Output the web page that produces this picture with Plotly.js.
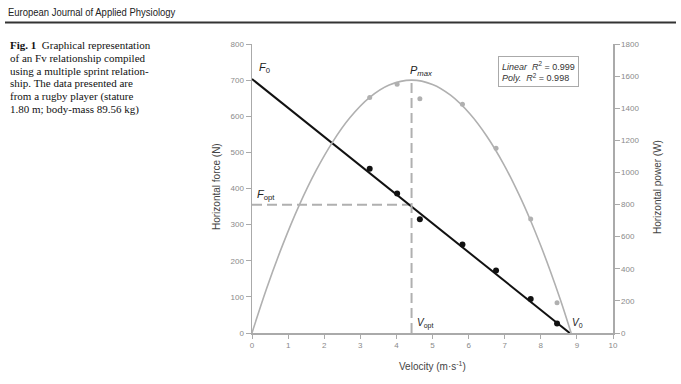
<!DOCTYPE html>
<html>
<head>
<meta charset="utf-8">
<script src="https://cdn.plot.ly/plotly-3.0.1.min.js"></script>
<style>
  html, body { margin: 0; padding: 0; background: #fff; }
  #wrap { position: relative; width: 681px; height: 384px; }
  #chart { width: 681px; height: 384px; }
  #header {
    position: absolute; left: 8px; top: 5px; white-space: nowrap;
    font-family: 'Liberation Sans', Arial, sans-serif; font-size: 11px; line-height: 14px; color: #222;
    transform: scaleX(0.86); transform-origin: left center;
  }
</style>
</head>
<body>
<div id="wrap">
  <div id="chart"></div>
  <div id="header">European Journal of Applied Physiology</div>
</div>
<script>
// ---- Data ----
const sprintVelocity = [3.26, 4.02, 4.65, 5.83, 6.76, 7.72, 8.45];   // m·s-1
const sprintForce    = [455, 386, 315, 245, 173, 94, 26];            // N
const sprintPower    = [1467, 1550, 1459, 1424, 1150, 710, 189];     // W

const linearFitVelocity = [0, 8.8];
const linearFitForce    = [703, 0];

const polyFitVelocity = [0, 0.4, 0.85, 1.3, 1.78, 2.24, 2.71, 3.26, 3.8, 4.42, 5.0, 5.5, 6.04, 6.5, 6.97, 7.4, 7.71, 8.0, 8.26, 8.55, 8.84];
const polyFitPower    = [0, 274, 549, 792, 1014, 1192, 1340, 1467, 1544, 1575, 1548, 1481, 1364, 1227, 1052, 860, 704, 543, 388, 202, 0];

const vOpt = 4.42;
const fOpt = 355;
const pMax = 1575;

const xTicks  = [0, 1, 2, 3, 4, 5, 6, 7, 8, 9, 10];
const yTicks  = [0, 100, 200, 300, 400, 500, 600, 700, 800];
const y2Ticks = [0, 200, 400, 600, 800, 1000, 1200, 1400, 1600, 1800];

const captionLines = [
  '<b>Fig. 1</b>  Graphical representation',
  'of an Fv relationship compiled',
  'using a multiple sprint relation-',
  'ship. The data presented are',
  'from a rugby player (stature',
  '1.80 m; body-mass 89.56 kg)'
];

// ---- Layout helpers (pixel -> paper) ----
const W = 681, H = 384;
const M = { l: 252, r: 68, t: 44, b: 51 };
const PW = W - M.l - M.r, PH = H - M.t - M.b;
const px = x => (x - M.l) / PW;
const py = y => (H - M.b - y) / PH;

const axisGray = '#aaaaaa';
const tickFont = { family: 'Liberation Sans, Arial, sans-serif', size: 8, color: '#8a8a8a' };
const titleFont = { family: 'Liberation Sans, Arial, sans-serif', size: 10, color: '#444' };
const labelFont = { family: 'Liberation Sans, Arial, sans-serif', size: 11, color: '#222' };

const traces = [
  { // polynomial power fit
    x: polyFitVelocity, y: polyFitPower, yaxis: 'y2', mode: 'lines',
    line: { color: '#b0b0b0', width: 1.6, shape: 'spline', smoothing: 1 },
    hoverinfo: 'skip', showlegend: false
  },
  { // power data
    x: sprintVelocity, y: sprintPower, yaxis: 'y2', mode: 'markers',
    marker: { color: '#b0b0b0', size: 5 }, showlegend: false
  },
  { // Fopt horizontal dashed
    x: [0, vOpt], y: [fOpt, fOpt], mode: 'lines',
    line: { color: '#b0b0b0', width: 2, dash: '10px,5px' }, showlegend: false, hoverinfo: 'skip'
  },
  { // Vopt vertical dashed up to Pmax
    x: [vOpt, vOpt], y: [0, pMax], yaxis: 'y2', mode: 'lines',
    line: { color: '#b0b0b0', width: 2, dash: '10px,5px' }, showlegend: false, hoverinfo: 'skip'
  },
  { // linear force fit
    x: linearFitVelocity, y: linearFitForce, mode: 'lines',
    line: { color: '#111', width: 2 }, showlegend: false, hoverinfo: 'skip'
  },
  { // force data
    x: sprintVelocity, y: sprintForce, mode: 'markers',
    marker: { color: '#111', size: 6 }, showlegend: false
  }
];

const ann = (x, y, text, font, extra) => Object.assign({
  xref: 'paper', yref: 'paper', x: px(x), y: py(y), xanchor: 'center', yanchor: 'middle',
  showarrow: false, text: text, font: font
}, extra || {});

const annotations = [
  ann(216, 187, 'Horizontal force (N)', titleFont, { textangle: -90 }),
  ann(657, 187, 'Horizontal power (W)', titleFont, { textangle: -90 }),
  ann(432, 366, 'Velocity (m·s<sup>-1</sup>)', titleFont),
  ann(264, 68, '<i>F</i><sub>0</sub>', labelFont),
  ann(421, 71, '<i>P<sub>max</sub></i>', labelFont),
  ann(266, 195, '<i>F</i><sub>opt</sub>', labelFont),
  ann(425, 323, '<i>V</i><sub>opt</sub>', { ...labelFont, size: 10 }),
  ann(577, 323, '<i>V</i><sub>0</sub>', { ...labelFont, size: 10 }),
  ann(498, 71.5, '<i>Linear  R</i><sup>2</sup> = 0.999<br><i>Poly.  R</i><sup>2</sup> = 0.998',
    { family: 'Liberation Sans, Arial, sans-serif', size: 9, color: '#333' },
    { xanchor: 'left', align: 'left', bgcolor: '#fff', bordercolor: '#aaa', borderwidth: 1, borderpad: 3 })
];

captionLines.forEach((t, i) => {
  annotations.push(ann(8, 45 + i * 12.8, t,
    { family: 'Liberation Serif, Times New Roman, serif', size: 11, color: '#111' },
    { xanchor: 'left', align: 'left' }));
});

const layout = {
  width: W, height: H,
  margin: M,
  paper_bgcolor: 'rgba(0,0,0,0)', plot_bgcolor: 'rgba(0,0,0,0)',
  showlegend: false,
  font: { family: 'Liberation Sans, Arial, sans-serif' },
  xaxis: {
    range: [0, 10], tickvals: xTicks, ticks: 'outside', ticklen: 4, tickwidth: 1, tickcolor: axisGray,
    showline: true, linecolor: axisGray, linewidth: 1.5, showgrid: false, zeroline: false,
    tickfont: tickFont, fixedrange: true
  },
  yaxis: {
    range: [0, 800], tickvals: yTicks, ticks: 'outside', ticklen: 5, tickwidth: 1, tickcolor: axisGray,
    showline: true, linecolor: axisGray, linewidth: 1.5, showgrid: false, zeroline: false,
    tickfont: tickFont, fixedrange: true
  },
  yaxis2: {
    range: [0, 1800], tickvals: y2Ticks, overlaying: 'y', side: 'right', ticks: 'outside', ticklen: 5,
    tickwidth: 1, tickcolor: axisGray, showline: true, linecolor: axisGray, linewidth: 1.5,
    showgrid: false, zeroline: false, tickfont: tickFont, fixedrange: true
  },
  shapes: [
    { type: 'line', xref: 'paper', yref: 'paper', x0: px(5), x1: px(676), y0: py(22.5), y1: py(22.5),
      line: { color: '#333', width: 2 } }
  ],
  annotations: annotations
};

Plotly.newPlot('chart', traces, layout, { displayModeBar: false, staticPlot: true });
</script>
</body>
</html>
